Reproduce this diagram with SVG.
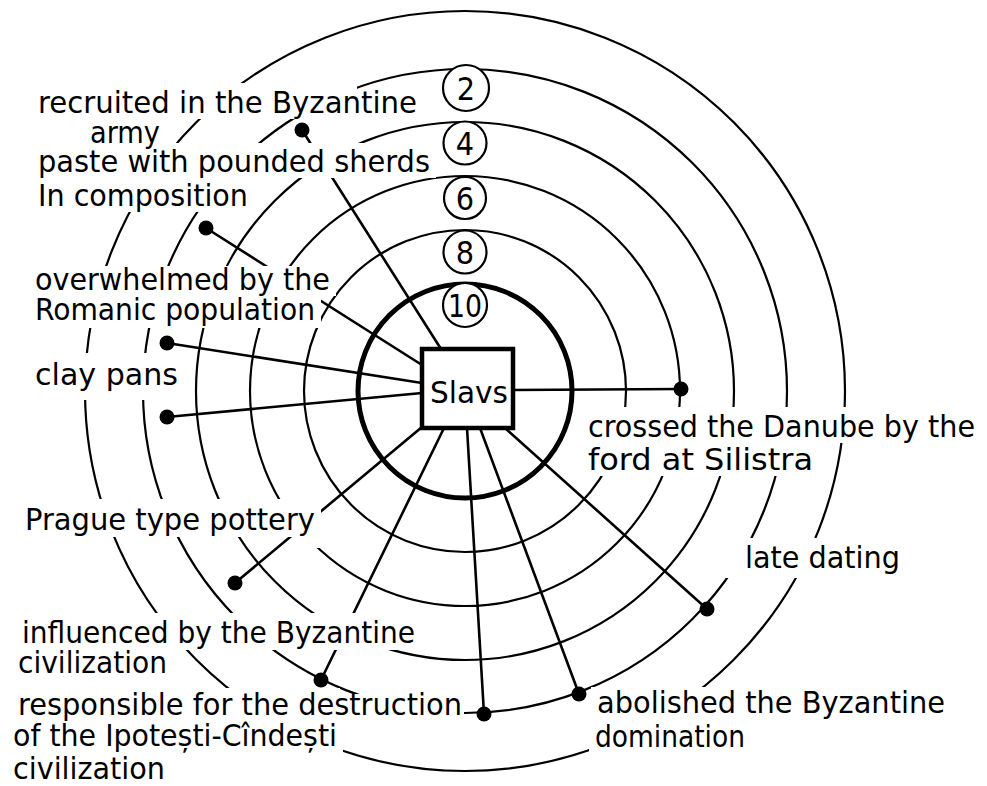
<svg xmlns="http://www.w3.org/2000/svg" width="987" height="786" viewBox="0 0 987 786">
<style>
  .ring{fill:none;stroke:#000;stroke-width:2.2}
  .thick{fill:none;stroke:#000;stroke-width:5}
  .mask rect{fill:#fff;stroke:none}
  .lbl{font-family:"DejaVu Sans Condensed","DejaVu Sans","Liberation Sans",sans-serif;font-size:31px;fill:#000}
  .conn line{stroke:#000;stroke-width:2.6;stroke-linecap:round}
  .dot{fill:#000}
  .num circle{fill:#fff;stroke:#000;stroke-width:2.2}
  .num text{font-family:"DejaVu Sans Condensed","DejaVu Sans",sans-serif;font-size:32px;fill:#000;text-anchor:middle}
</style>
<rect width="987" height="786" fill="#fff"/>
<g id="rings">
  <circle class="ring" cx="465" cy="391" r="380"/>
  <circle class="ring" cx="465" cy="391" r="322"/>
  <circle class="ring" cx="465" cy="391" r="269"/>
  <circle class="ring" cx="465" cy="391" r="215"/>
  <circle class="ring" cx="465" cy="391" r="161"/>
  <circle class="thick" cx="465" cy="391" r="107"/>
</g>
<g id="connectors" class="conn">
  <line x1="302" y1="130" x2="441" y2="349"/>
  <line x1="206" y1="228" x2="422" y2="365"/>
  <line x1="167" y1="343" x2="422" y2="383"/>
  <line x1="167" y1="417" x2="422" y2="393"/>
  <line x1="235" y1="583" x2="422" y2="427"/>
  <line x1="321" y1="680" x2="444" y2="428"/>
  <line x1="484" y1="714" x2="467" y2="428"/>
  <line x1="579" y1="694" x2="480" y2="428"/>
  <line x1="707" y1="609" x2="505" y2="428"/>
  <line x1="681" y1="389" x2="513" y2="390"/>
</g>
<g id="text-masks" class="mask">
  <rect x="32" y="83" width="325" height="36"/>
  <rect x="357" y="92" width="66" height="27"/>
  <rect x="84" y="113" width="82" height="37"/>
  <rect x="32" y="143" width="404" height="35"/>
  <rect x="32" y="176" width="222" height="36"/>
  <rect x="29" y="266" width="307" height="30"/>
  <rect x="29" y="292" width="292" height="36"/>
  <rect x="29" y="353" width="155" height="47"/>
  <rect x="19" y="499" width="302" height="38"/>
  <rect x="296" y="530" width="25" height="18"/>
  <rect x="16" y="613" width="405" height="37"/>
  <rect x="12" y="643" width="161" height="36"/>
  <rect x="12" y="688" width="328" height="33"/>
  <rect x="340" y="694" width="124" height="27"/>
  <rect x="7" y="716" width="336" height="39"/>
  <rect x="7" y="751" width="164" height="35"/>
  <rect x="582" y="407" width="399" height="36"/>
  <rect x="582" y="440" width="237" height="36"/>
  <rect x="726" y="538" width="180" height="40"/>
  <rect x="591" y="687" width="360" height="34"/>
  <rect x="589" y="717" width="162" height="35"/>
</g>
<g id="ring-labels" class="num">
  <g id="ring-2"><circle cx="466" cy="88" r="23"/><text x="466" y="100">2</text></g>
  <g id="ring-4"><circle cx="465" cy="143" r="21.5"/><text x="465" y="155">4</text></g>
  <g id="ring-6"><circle cx="465" cy="198" r="21"/><text x="465" y="210">6</text></g>
  <g id="ring-8"><circle cx="465" cy="252" r="21.5"/><text x="465" y="264">8</text></g>
  <g id="ring-10"><circle cx="465" cy="305" r="22"/><text x="465" y="317" textLength="34" lengthAdjust="spacingAndGlyphs">10</text></g>
</g>
<g id="slavs">
  <rect x="422" y="349" width="91" height="79" fill="#fff" stroke="#000" stroke-width="4.5"/>
  <text class="lbl" x="430" y="403" font-size="38" textLength="78" lengthAdjust="spacingAndGlyphs">Slavs</text>
</g>
<g id="recruited">
  <circle class="dot" cx="302" cy="130" r="7.5"/>
  <text class="lbl" x="38" y="113" textLength="379" lengthAdjust="spacingAndGlyphs">recruited in the Byzantine</text>
  <text class="lbl" x="90" y="143" textLength="70" lengthAdjust="spacingAndGlyphs">army</text>
</g>
<g id="paste">
  <circle class="dot" cx="206" cy="228" r="7.5"/>
  <text class="lbl" x="38" y="172" textLength="392" lengthAdjust="spacingAndGlyphs">paste with pounded sherds</text>
  <text class="lbl" x="38" y="206" textLength="210" lengthAdjust="spacingAndGlyphs">In composition</text>
</g>
<g id="overwhelmed">
  <circle class="dot" cx="167" cy="343" r="7.5"/>
  <text class="lbl" x="35" y="290" textLength="295" lengthAdjust="spacingAndGlyphs">overwhelmed by the</text>
  <text class="lbl" x="35" y="320" textLength="280" lengthAdjust="spacingAndGlyphs">Romanic population</text>
</g>
<g id="clay-pans">
  <circle class="dot" cx="167" cy="417" r="7.5"/>
  <text class="lbl" x="35" y="385" textLength="143" lengthAdjust="spacingAndGlyphs">clay pans</text>
</g>
<g id="prague">
  <circle class="dot" cx="235" cy="583" r="7.5"/>
  <text class="lbl" x="25" y="530" textLength="290" lengthAdjust="spacingAndGlyphs">Prague type pottery</text>
</g>
<g id="influenced">
  <circle class="dot" cx="321" cy="680" r="7.5"/>
  <text class="lbl" x="22" y="643" textLength="393" lengthAdjust="spacingAndGlyphs">influenced by the Byzantine</text>
  <text class="lbl" x="18" y="673" textLength="149" lengthAdjust="spacingAndGlyphs">civilization</text>
</g>
<g id="responsible">
  <circle class="dot" cx="484" cy="714" r="7.5"/>
  <text class="lbl" x="18" y="715" textLength="444" lengthAdjust="spacingAndGlyphs">responsible for the destruction</text>
  <text class="lbl" x="13" y="746" textLength="324" lengthAdjust="spacingAndGlyphs">of the Ipotești-Cîndești</text>
  <text class="lbl" x="13" y="779" textLength="152" lengthAdjust="spacingAndGlyphs">civilization</text>
</g>
<g id="abolished">
  <circle class="dot" cx="579" cy="694" r="7.5"/>
  <text class="lbl" x="597" y="713" textLength="348" lengthAdjust="spacingAndGlyphs">abolished the Byzantine</text>
  <text class="lbl" x="595" y="747" textLength="150" lengthAdjust="spacingAndGlyphs">domination</text>
</g>
<g id="late-dating">
  <circle class="dot" cx="707" cy="609" r="7.5"/>
  <text class="lbl" x="745" y="568" textLength="155" lengthAdjust="spacingAndGlyphs">late dating</text>
</g>
<g id="crossed">
  <circle class="dot" cx="681" cy="389" r="7.5"/>
  <text class="lbl" x="588" y="437" textLength="387" lengthAdjust="spacingAndGlyphs">crossed the Danube by the</text>
  <text class="lbl" x="588" y="470" textLength="225" lengthAdjust="spacingAndGlyphs">ford at Silistra</text>
</g>
</svg>
